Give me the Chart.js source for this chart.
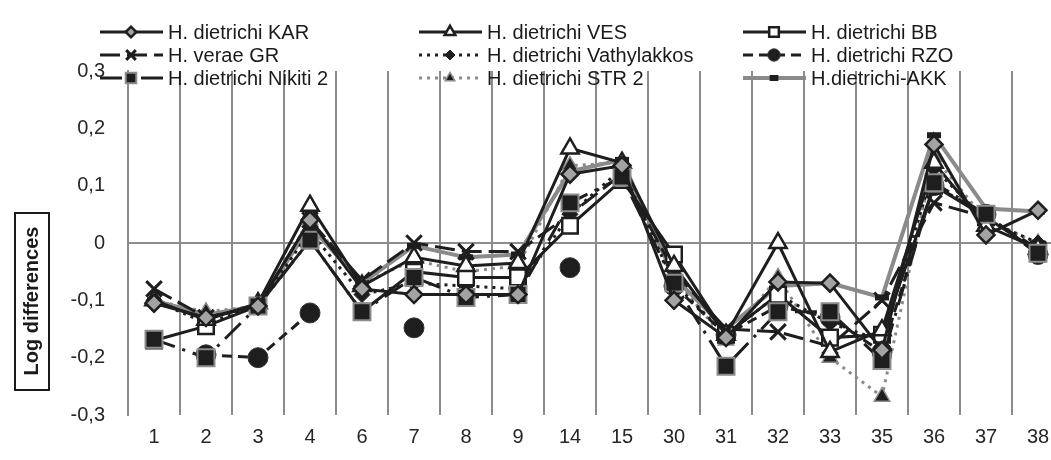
<!DOCTYPE html>
<html>
<head>
<meta charset="utf-8">
<script src="https://cdn.jsdelivr.net/npm/chart.js@4.4.1/dist/chart.umd.min.js"></script>
<style>
    html, body { margin: 0; padding: 0; background: #fff; overflow: hidden; }
    #wrap { width: 1100px; height: 460px; }
</style>
</head>
<body>
<div id="wrap"><canvas id="logChart" width="1100" height="460"></canvas></div>
<script>
const categories = ['1', '2', '3', '4', '6', '7', '8', '9', '14', '15', '30', '31', '32', '33', '35', '36', '37', '38'];
const yTickValues = [-0.3, -0.2, -0.1, 0, 0.1, 0.2, 0.3];

const karValues    = [-0.105, -0.13, -0.11, 0.04, -0.08, -0.09, -0.09, -0.09, 0.12, 0.135, -0.1, -0.165, -0.068, -0.07, -0.187, 0.172, 0.014, 0.057];
const vesValues    = [-0.1, -0.134, -0.105, 0.065, -0.075, -0.025, -0.04, -0.035, 0.165, 0.14, -0.04, -0.16, 0.0, -0.19, -0.152, 0.14, 0.03, -0.01];
const bbValues     = [-0.17, -0.145, -0.11, 0.005, -0.12, -0.05, -0.06, -0.06, 0.03, 0.11, -0.02, -0.16, -0.09, -0.165, -0.16, 0.1, 0.045, -0.015];
const veraeValues  = [-0.08, -0.13, -0.11, 0.04, -0.065, 0.0, -0.015, -0.015, 0.05, 0.12, -0.05, -0.15, -0.155, -0.18, -0.1, 0.07, 0.045, -0.01];
const vathyValues  = [-0.1, -0.14, -0.11, 0.02, -0.09, -0.07, -0.075, -0.08, 0.05, 0.13, -0.07, -0.16, -0.09, -0.14, -0.17, 0.13, 0.04, 0.0];
const rzoValues    = [null, -0.195, -0.2, -0.122, null, -0.148, null, null, -0.043, null, -0.075, -0.16, -0.11, -0.13, -0.19, 0.1, 0.05, -0.02];
const nikitiValues = [-0.168, -0.2, -0.11, 0.005, -0.12, -0.06, -0.095, -0.09, 0.07, 0.115, -0.07, -0.215, -0.12, -0.12, -0.205, 0.105, 0.05, -0.018];
const str2Values   = [-0.1, -0.12, -0.11, 0.04, -0.07, -0.03, -0.05, -0.04, 0.135, 0.14, -0.06, -0.17, -0.06, -0.2, -0.268, 0.15, 0.04, 0.0];
const akkValues    = [-0.1, -0.125, -0.11, 0.03, -0.07, -0.005, -0.025, -0.02, 0.125, 0.145, -0.06, -0.15, -0.075, -0.07, -0.095, 0.188, 0.06, 0.055];

const BLACK = '#1e1e1e';
const GREY_LINE = '#8a8a8a';
const GREY_EDGE = '#8c8c8c';
const FONT = "'Liberation Sans', Arial, sans-serif";

// order: lower is painted on top (KAR diamonds, then Nikiti squares)
const datasets = [
    { label: 'H. dietrichi KAR', data: karValues, order: -2, borderColor: BLACK, borderWidth: 3, borderDash: [],
      pointStyle: 'rectRot', pointRadius: 8.5, pointBackgroundColor: '#a3a3a3', pointBorderColor: BLACK, pointBorderWidth: 2.5 },
    { label: 'H. dietrichi VES', data: vesValues, borderColor: BLACK, borderWidth: 3, borderDash: [],
      pointStyle: 'triangle', pointRadius: 10, pointBackgroundColor: '#ffffff', pointBorderColor: BLACK, pointBorderWidth: 2.5 },
    { label: 'H. dietrichi BB', data: bbValues, borderColor: BLACK, borderWidth: 3, borderDash: [],
      pointStyle: 'rect', pointRadius: 11, pointBackgroundColor: '#ffffff', pointBorderColor: BLACK, pointBorderWidth: 2.5 },
    { label: 'H. verae GR', data: veraeValues, borderColor: BLACK, borderWidth: 3, borderDash: [20, 7],
      pointStyle: 'crossRot', pointRadius: 11, pointBackgroundColor: BLACK, pointBorderColor: BLACK, pointBorderWidth: 3 },
    { label: 'H. dietrichi Vathylakkos', data: vathyValues, borderColor: BLACK, borderWidth: 3, borderDash: [3, 5],
      pointStyle: 'rectRot', pointRadius: 8, pointBackgroundColor: BLACK, pointBorderColor: BLACK, pointBorderWidth: 1 },
    { label: 'H. dietrichi RZO', data: rzoValues, borderColor: BLACK, borderWidth: 3, borderDash: [10, 6],
      pointStyle: 'circle', pointRadius: 10, pointBackgroundColor: BLACK, pointBorderColor: '#333333', pointBorderWidth: 1 },
    { label: 'H. dietrichi Nikiti 2', data: nikitiValues, order: -1, borderColor: BLACK, borderWidth: 3, borderDash: [22, 8, 3, 8],
      pointStyle: 'rect', pointRadius: 12, pointBackgroundColor: BLACK, pointBorderColor: GREY_EDGE, pointBorderWidth: 2 },
    { label: 'H. dietrichi STR 2', data: str2Values, borderColor: GREY_LINE, borderWidth: 3, borderDash: [3, 5],
      pointStyle: 'triangle', pointRadius: 9, pointBackgroundColor: BLACK, pointBorderColor: GREY_EDGE, pointBorderWidth: 1.5 },
    { label: 'H.dietrichi-AKK', data: akkValues, borderColor: GREY_LINE, borderWidth: 4, borderDash: [],
      pointStyle: 'line', pointRadius: 7, pointBackgroundColor: BLACK, pointBorderColor: BLACK, pointBorderWidth: 6 }
];
datasets.forEach(ds => { ds.tension = 0; ds.fill = false; ds.spanGaps = false; });

// legend: 3 x 3 grid, line with the marker in its middle
const legendCols = [100, 419, 743];
const legendRows = [32, 55, 78];

const gridLegend = {
    id: 'gridLegend',
    afterDraw(chart) {
        const ctx = chart.ctx;
        chart.data.datasets.forEach((ds, i) => {
            const x0 = legendCols[i % 3];
            const y = legendRows[Math.floor(i / 3)];
            ctx.save();
            ctx.strokeStyle = ds.borderColor;
            ctx.lineWidth = ds.borderWidth;
            ctx.setLineDash(ds.borderDash);
            ctx.beginPath();
            ctx.moveTo(x0, y);
            ctx.lineTo(x0 + 63, y);
            ctx.stroke();
            ctx.setLineDash([]);
            ctx.fillStyle = ds.pointBackgroundColor;
            ctx.strokeStyle = ds.pointBorderColor;
            ctx.lineWidth = ds.pointBorderWidth;
            Chart.helpers.drawPoint(ctx, {
                pointStyle: ds.pointStyle,
                radius: ds.pointRadius * 0.62,
                rotation: 0,
                borderWidth: ds.pointBorderWidth
            }, x0 + 31, y);
            ctx.fillStyle = '#1a1a1a';
            ctx.font = '20px ' + FONT;
            ctx.textAlign = 'left';
            ctx.textBaseline = 'middle';
            ctx.fillText(ds.label, x0 + 68, y + 1);
            ctx.restore();
        });
    }
};

// boxed y axis title
const boxedTitle = {
    id: 'boxedTitle',
    afterDraw(chart) {
        const ctx = chart.ctx;
        ctx.save();
        ctx.strokeStyle = '#1a1a1a';
        ctx.lineWidth = 2;
        ctx.strokeRect(15, 213, 34, 177);
        ctx.translate(32, 301);
        ctx.rotate(-Math.PI / 2);
        ctx.fillStyle = '#1a1a1a';
        ctx.font = 'bold 20px ' + FONT;
        ctx.textAlign = 'center';
        ctx.textBaseline = 'middle';
        ctx.fillText('Log differences', 0, 0);
        ctx.restore();
    }
};

new Chart(document.getElementById('logChart'), {
    type: 'line',
    data: { labels: categories, datasets: datasets },
    options: {
        responsive: false,
        animation: false,
        layout: { padding: { top: 71, right: 36, bottom: 0, left: 0 } },
        plugins: { legend: { display: false }, tooltip: { enabled: false } },
        scales: {
            x: {
                offset: true,
                grid: { offset: true, color: GREY_EDGE, lineWidth: 2, drawTicks: false },
                border: { display: false },
                ticks: { color: '#262626', padding: 10, font: { family: FONT, size: 20 }, maxRotation: 0, autoSkip: false },
                afterFit: (scale) => { scale.height = 45; }
            },
            y: {
                min: -0.3,
                max: 0.3,
                afterBuildTicks: (scale) => { scale.ticks = yTickValues.map(v => ({ value: v })); },
                grid: {
                    drawTicks: false,
                    lineWidth: 2,
                    color: (c) => (c.tick && Math.abs(c.tick.value) < 1e-9) ? GREY_EDGE : 'rgba(0,0,0,0)'
                },
                border: { display: true, color: GREY_EDGE, width: 2 },
                ticks: {
                    color: '#262626',
                    padding: 23,
                    font: { family: FONT, size: 20 },
                    callback: (v) => Math.abs(v) < 1e-9 ? '0' : Number(v).toFixed(1).replace('.', ',')
                },
                afterFit: (scale) => { scale.width = 128; }
            }
        }
    },
    plugins: [boxedTitle, gridLegend]
});
</script>
</body>
</html>
